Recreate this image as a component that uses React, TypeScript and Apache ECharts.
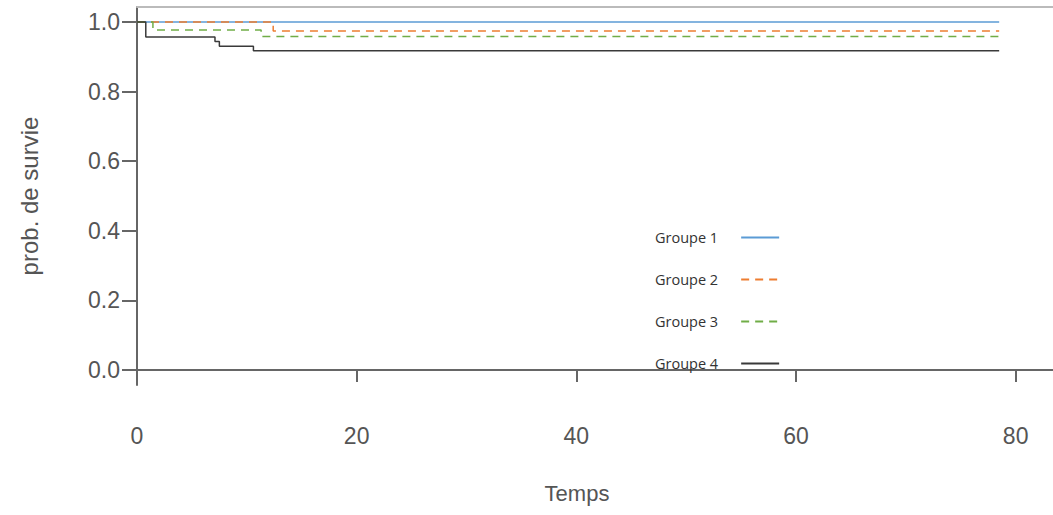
import React, { useEffect, useRef } from "react";
import * as echarts from "echarts";

const groupNames = ["Groupe 1", "Groupe 2", "Groupe 3", "Groupe 4"];
const groupColors = ["#5b9bd5", "#ed7d31", "#70ad47", "#3a3a3a"];

const g1Times = [0, 78.5];
const g1Surv = [1, 1];
const g2Times = [0, 12.4, 78.5];
const g2Surv = [1, 0.974, 0.974];
const g3Times = [0, 1.45, 11.3, 78.5];
const g3Surv = [1, 0.977, 0.958, 0.958];
const g4Times = [0, 0.8, 7.1, 7.5, 10.6, 78.5];
const g4Surv = [1, 0.957, 0.944, 0.93, 0.917, 0.917];

const xTicks = [0, 20, 40, 60, 80];
const yTicks = [0, 0.2, 0.4, 0.6, 0.8, 1.0];

const allTimes = [g1Times, g2Times, g3Times, g4Times];
const allSurv = [g1Surv, g2Surv, g3Surv, g4Surv];
const lineTypes: any[] = ["solid", [8, 6], [8, 6], "solid"];

export default function App() {
  const ref = useRef<HTMLDivElement>(null);
  useEffect(() => {
    if (!ref.current) return;
    const chart = echarts.init(ref.current, null, { renderer: "svg" });
    const axisFont = "'Liberation Sans', Arial, sans-serif";
    const axisColor = "#555555";
    chart.setOption({
      animation: false,
      backgroundColor: "#ffffff",
      grid: { left: 137, right: 0, top: 7, bottom: 130 },
      legend: {
        orient: "vertical",
        left: 650,
        top: 225,
        align: "right",
        itemWidth: 38,
        itemHeight: 14,
        itemGap: 27,
        data: groupNames,
        itemStyle: { color: "rgba(0,0,0,0)", borderWidth: 0 },
        textStyle: {
          fontFamily: "'Open Sans', sans-serif",
          fontSize: 14.5,
          lineHeight: 14,
          color: "#333",
          padding: [0, 18, 0, 0],
        },
      },
      xAxis: [
        {
          type: "value",
          min: 0,
          max: 83.4,
          interval: 20,
          name: "Temps",
          nameLocation: "middle",
          nameGap: 97,
          nameTextStyle: {
            fontFamily: axisFont,
            fontSize: 22,
            color: axisColor,
            padding: [0, 36, 0, 0],
          },
          axisLine: { show: true, lineStyle: { color: "#666", width: 2 } },
          axisTick: {
            show: true,
            length: 12,
            customValues: xTicks,
            lineStyle: { color: "#666", width: 2 },
          },
          axisLabel: {
            customValues: xTicks,
            margin: 39,
            fontFamily: axisFont,
            fontSize: 23,
            color: axisColor,
          },
          splitLine: { show: false },
        },
        {
          type: "value",
          position: "top",
          min: 0,
          max: 83.4,
          axisLine: { show: true, lineStyle: { color: "#bbbbbb", width: 2 } },
          axisTick: { show: false },
          axisLabel: { show: false },
          splitLine: { show: false },
        },
      ],
      yAxis: {
        type: "value",
        min: -0.043,
        max: 1.043,
        name: "prob. de survie",
        nameLocation: "middle",
        nameGap: 96,
        nameTextStyle: { fontFamily: axisFont, fontSize: 24, color: axisColor },
        axisLine: { show: true, lineStyle: { color: "#666", width: 2 } },
        axisTick: {
          show: true,
          length: 15,
          customValues: yTicks,
          lineStyle: { color: "#666", width: 2 },
        },
        axisLabel: {
          customValues: yTicks,
          margin: 17,
          fontFamily: axisFont,
          fontSize: 23,
          color: axisColor,
          formatter: (v: number) => v.toFixed(1),
        },
        splitLine: { show: false },
      },
      series: groupNames.map((name, i) => ({
        name,
        type: "line",
        step: "end",
        symbol: "none",
        xAxisIndex: 0,
        color: groupColors[i],
        lineStyle: {
          color: groupColors[i],
          width: 1.5,
          type: lineTypes[i],
        },
        data: allTimes[i].map((t, j) => [t, allSurv[i][j]]),
      })),
    });
    return () => chart.dispose();
  }, []);
  return (
    <div
      ref={ref}
      style={{ position: "absolute", left: 0, top: 0, width: 1053, height: 515 }}
    />
  );
}
